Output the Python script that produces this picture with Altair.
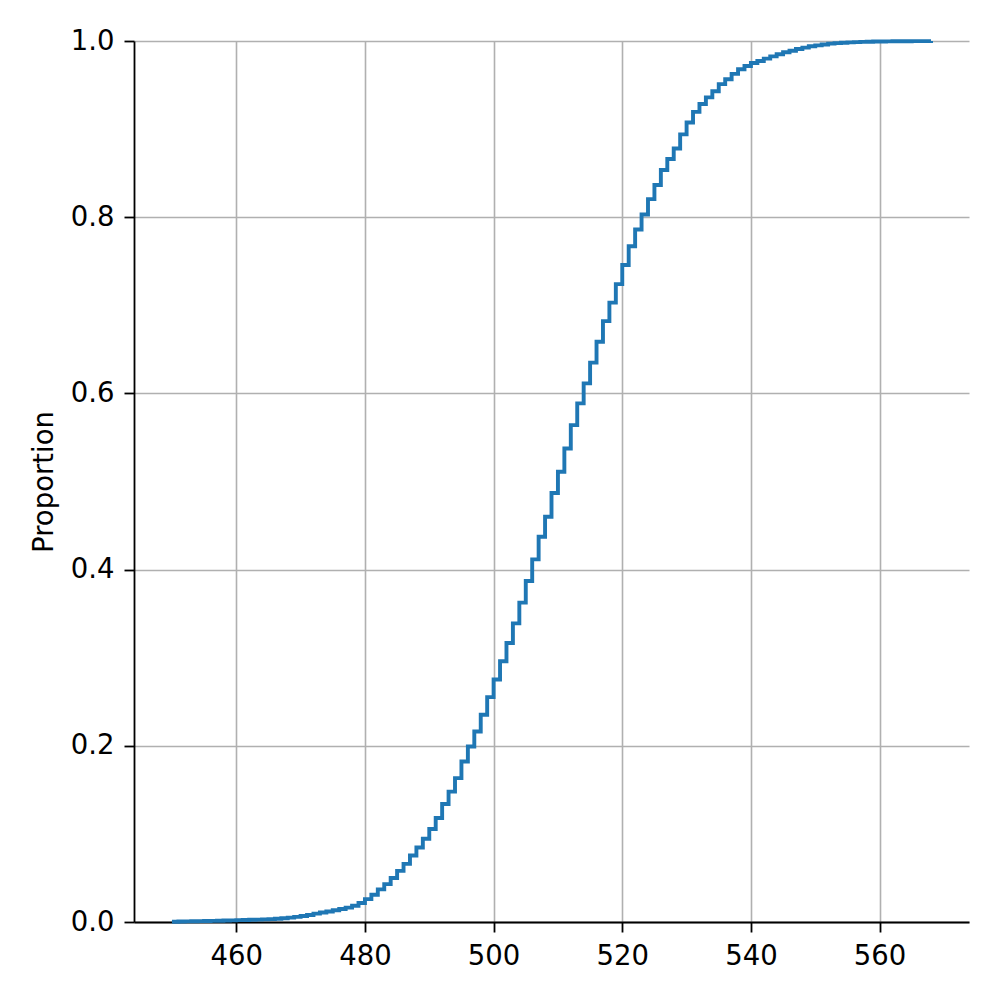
import altair as alt
import pandas as pd

# Integer score values (x) from 450 to 568
values = list(range(450, 569))

# Cumulative proportion
proportion = [
    0.0003, 0.0005, 0.0007, 0.0008, 0.0010, 0.0011, 0.0013, 0.0015, 0.0017, 0.0019,  # 450-459
    0.0021, 0.0023, 0.0025, 0.0027, 0.0030, 0.0033, 0.0037, 0.0043, 0.0050, 0.0058,  # 460-469
    0.0068, 0.0080, 0.0095, 0.0108, 0.0120, 0.0133, 0.0148, 0.0163, 0.0185, 0.0215,  # 470-479
    0.0260, 0.0310, 0.0370, 0.0430, 0.0500, 0.0580, 0.0660, 0.0755, 0.0845, 0.0945,  # 480-489
    0.1055, 0.1180, 0.1340, 0.1480, 0.1633, 0.1822, 0.1992, 0.2163, 0.2352, 0.2553,  # 490-499
    0.2752, 0.2960, 0.3167, 0.3390, 0.3625, 0.3870, 0.4116, 0.4373, 0.4600, 0.4870,  # 500-509
    0.5110, 0.5375, 0.5640, 0.5887, 0.6114, 0.6349, 0.6587, 0.6820, 0.7030, 0.7240,  # 510-519
    0.7457, 0.7670, 0.7860, 0.8030, 0.8205, 0.8365, 0.8536, 0.8660, 0.8780, 0.8940,  # 520-529
    0.9075, 0.9195, 0.9285, 0.9360, 0.9430, 0.9510, 0.9565, 0.9627, 0.9680, 0.9716,  # 530-539
    0.9750, 0.9773, 0.9800, 0.9826, 0.9850, 0.9872, 0.9890, 0.9910, 0.9925, 0.9940,  # 540-549
    0.9950, 0.9960, 0.9970, 0.9976, 0.9980, 0.9984, 0.9987, 0.9990, 0.9992, 0.9994,  # 550-559
    0.9995, 0.9996, 0.9997, 0.9998, 0.9998, 0.9999, 0.9999, 0.9999, 1.0000,          # 560-568
]

x_ticks = [460, 480, 500, 520, 540, 560]
y_ticks = [0.0, 0.2, 0.4, 0.6, 0.8, 1.0]

df = pd.DataFrame({"value": values, "Proportion": proportion})

FONT = "DejaVu Sans"

chart = (
    alt.Chart(df)
    .mark_line(interpolate="step-after", color="#1f77b4", strokeWidth=3.9)
    .encode(
        x=alt.X(
            "value:Q",
            scale=alt.Scale(domain=[444.1, 573.9], nice=False, zero=False),
            axis=alt.Axis(values=x_ticks, format="d", title=None),
        ),
        y=alt.Y(
            "Proportion:Q",
            scale=alt.Scale(domain=[0, 1], nice=False),
            axis=alt.Axis(values=y_ticks, format=".1f", title="Proportion"),
        ),
    )
    .properties(
        width=835,
        height=881,
        autosize=alt.AutoSizeParams(type="none"),
        padding={"left": 126, "top": 33, "right": 23, "bottom": 70},
    )
    .configure_view(strokeWidth=0)
    .configure_axis(
        labelFont=FONT,
        titleFont=FONT,
        labelFontSize=27.5,
        titleFontSize=27.5,
        titleFontWeight="normal",
        labelColor="black",
        titleColor="black",
        domainColor="black",
        domainWidth=1.8,
        tickColor="black",
        tickWidth=1.8,
        tickSize=10,
        labelPadding=10,
        gridColor="#b0b0b0",
        gridWidth=1.6,
        gridOpacity=1,
        titlePadding=12,
    )
)

chart.save("out.html", embed_options={"renderer": "svg", "actions": False})
